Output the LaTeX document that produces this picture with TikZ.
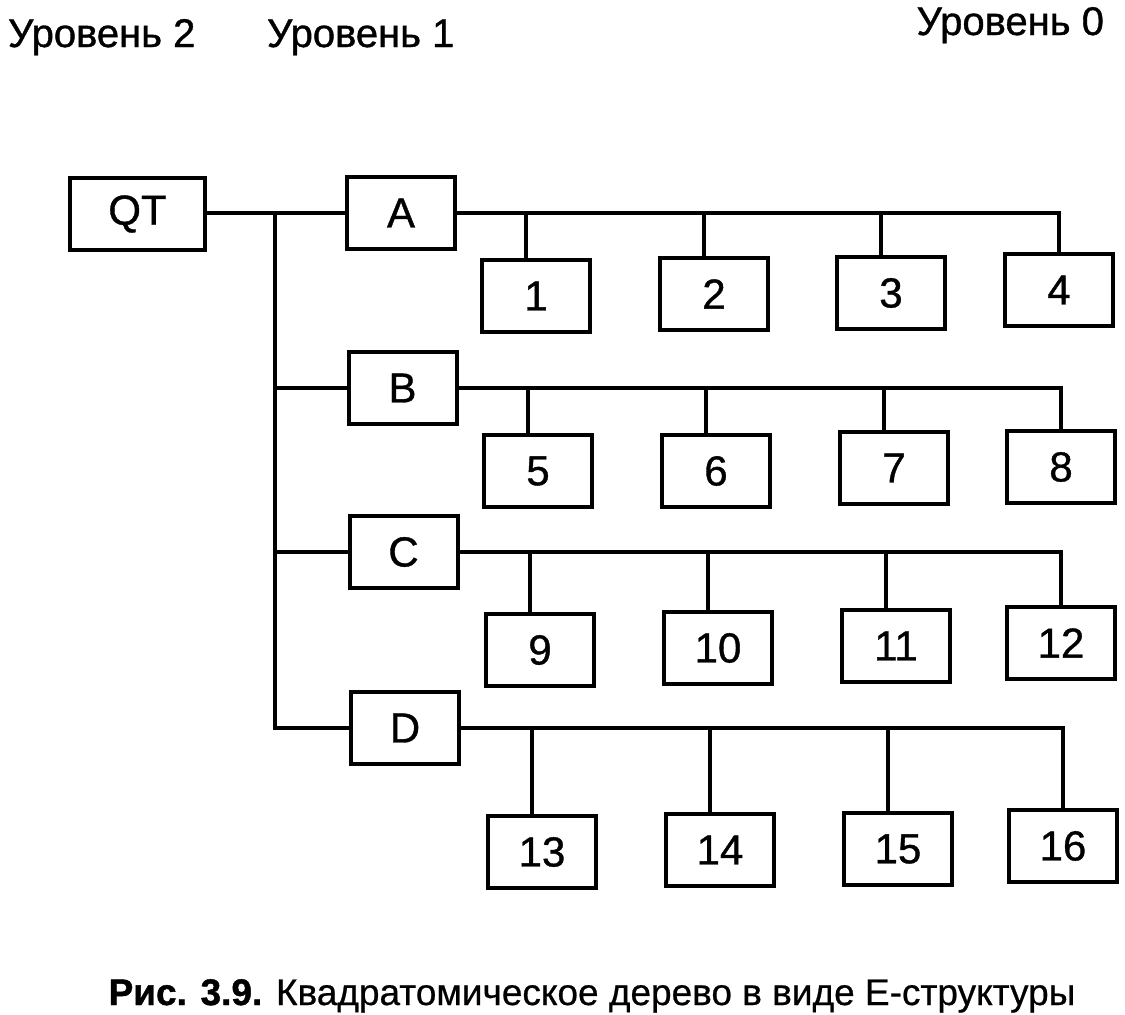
\documentclass[tikz,border=0pt]{standalone}
\usepackage{fontspec}
\setmainfont{Liberation Sans}
\newfontfamily\heavyfont[FakeBold=0.9]{Liberation Sans}
\newfontfamily\capfont[FakeBold=0.6]{Liberation Sans}
\newfontfamily\capboldfont[FakeBold=1.2]{Liberation Sans Bold}
\begin{document}
\begin{tikzpicture}[x=1pt,y=-1pt,
  every node/.style={inner sep=0pt, outer sep=0pt},
  box/.style={draw, line width=4pt, minimum width=108pt, minimum height=72pt,
    font=\heavyfont\fontsize{42}{48}\selectfont},
  wire/.style={line width=4pt},
  lvl/.style={font=\heavyfont\fontsize{40}{46}\selectfont}]
\useasboundingbox (0,0) rectangle (1125,1015);
% header
\node[lvl, anchor=base west] (l2) at (8,47) {Уровень 2};
\node[lvl, anchor=base west] (l1) at (267,47) {Уровень 1};
\node[lvl, anchor=base east] (l0) at (1104,35) {Уровень 0};
% root and level-1 boxes
\node[box, minimum width=135pt, minimum height=72pt] (QT) at (137.5,214) {QT};
\node[box] (A) at (401,213) {A};
\node[box] (B) at (402.5,388) {B};
\node[box] (C) at (403.5,552) {C};
\node[box] (D) at (405,728) {D};
% leaves
\node[box] (n1) at (536,296) {1};
\node[box] (n2) at (714,294) {2};
\node[box] (n3) at (891,293) {3};
\node[box] (n4) at (1059,290) {4};
\node[box] (n5) at (538,471) {5};
\node[box] (n6) at (716,471) {6};
\node[box] (n7) at (894,468) {7};
\node[box] (n8) at (1061,467) {8};
\node[box] (n9) at (540,650) {9};
\node[box] (n10) at (718,648) {10};
\node[box] (n11) at (896,646) {11};
\node[box] (n12) at (1061,643) {12};
\node[box] (n13) at (542,852) {13};
\node[box] (n14) at (720,850) {14};
\node[box] (n15) at (898,849) {15};
\node[box] (n16) at (1063,846) {16};
% trunk
\coordinate (t) at (275,0);
\draw[wire] (QT.east |- A.west) -- (A.west);
\draw[wire] (t |- A.west) |- (D.west);
\draw[wire] (t |- B.west) -- (B.west);
\draw[wire] (t |- C.west) -- (C.west);
% buses
\draw[wire] (A.east) -| (n4.north);
\draw[wire] (B.east) -| (n8.north);
\draw[wire] (C.east) -| (n12.north);
\draw[wire] (D.east) -| (n16.north);
\foreach \p/\q in {A/n1,A/n2,A/n3,B/n5,B/n6,B/n7,C/n9,C/n10,C/n11,D/n13,D/n14,D/n15}{
  \draw[wire] ([xshift=-10pt]\q.north) -- ([xshift=-10pt]\q.north |- \p.east);
}
% caption
\node[anchor=base, font=\capfont\fontsize{37}{42}\selectfont] (cap) at (592,1005)
  {{\capboldfont Рис. 3.9.} Квадратомическое дерево в виде Е-структуры};
\end{tikzpicture}
\end{document}
